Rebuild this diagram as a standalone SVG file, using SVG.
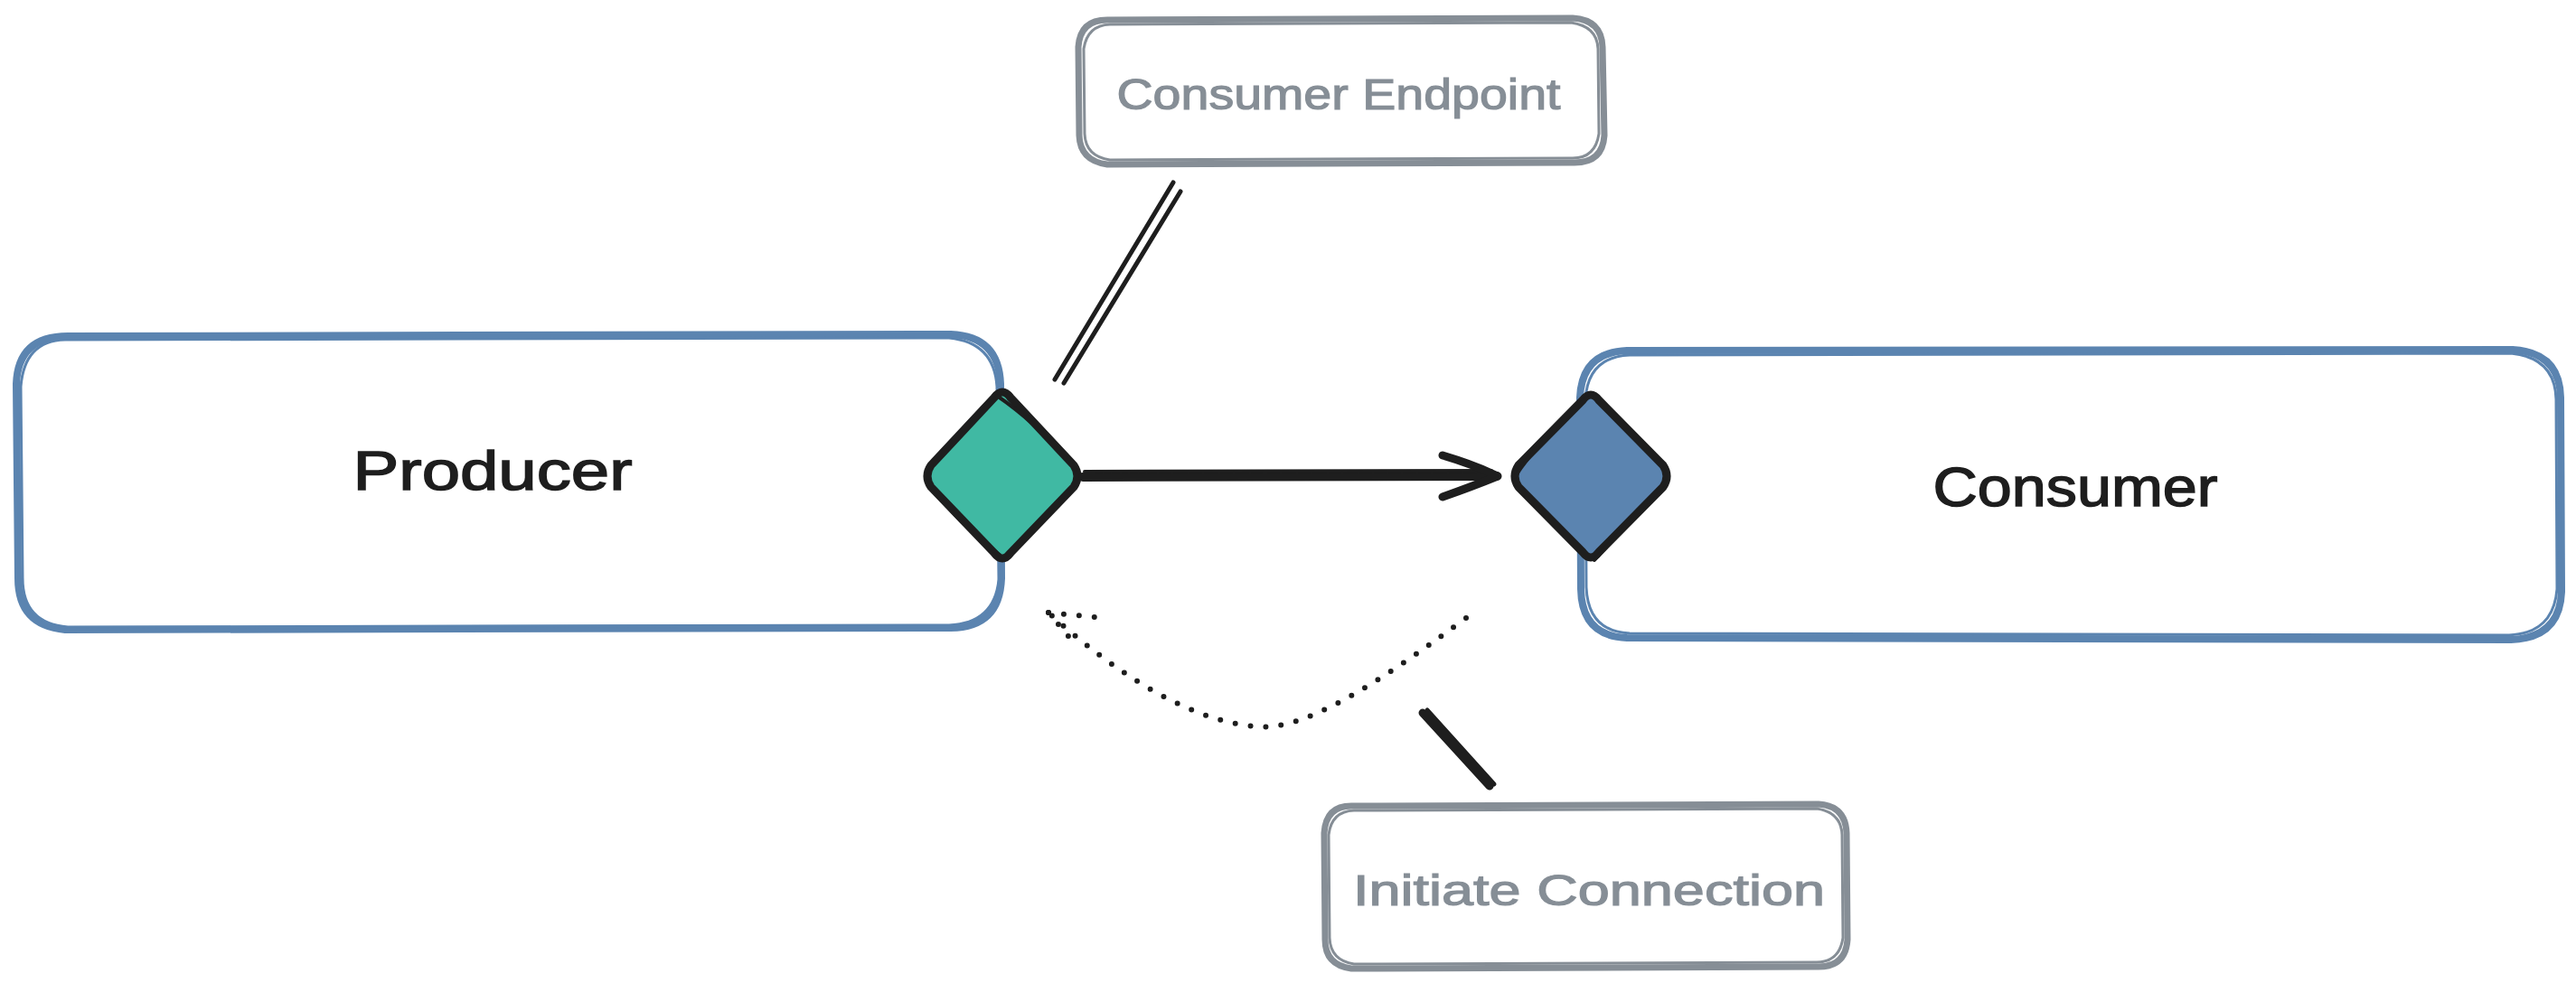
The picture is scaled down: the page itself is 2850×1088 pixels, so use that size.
<svg xmlns="http://www.w3.org/2000/svg" width="2850" height="1088" viewBox="0 0 2850 1088">
<style>
.blue{stroke:#5b84b0;stroke-linecap:round;stroke-linejoin:round}
.gray{stroke:#868e96;stroke-linecap:round;stroke-linejoin:round}
.ink{stroke:#1e1e1e;stroke-linecap:round;stroke-linejoin:round}
.nf{fill:none}
.wf{fill:#ffffff}
.dot{fill:none;stroke:#1e1e1e;stroke-width:6;stroke-linecap:round;stroke-dasharray:0 17}
.lbl{font-family:"Liberation Sans","DejaVu Sans",sans-serif;text-anchor:middle}
.big{font-size:62px;fill:#1e1e1e;stroke:#1e1e1e;stroke-width:1.5}
.small{font-size:48px;fill:#868e96;stroke:#868e96;stroke-width:1.2}
</style>
<rect x="0" y="0" width="2850" height="1088" fill="#ffffff"/>
<g id="producer">
<path class="blue wf" stroke-width="8" d="M 75 372 L 1052 370 Q 1105 372 1107 425 L 1108 640 Q 1106 694 1052 695 L 72 697 Q 20 692 20 640 L 18 425 Q 20 372 75 372 Z"/>
<path class="blue nf" stroke-width="3" d="M 72 376 L 1050 374 Q 1100 379 1103 428 L 1105 642 Q 1100 690 1050 692 L 75 694 Q 25 690 25 640 L 23 428 Q 27 377 72 376"/>
<text class="lbl big" x="545" y="542" textLength="309" lengthAdjust="spacingAndGlyphs">Producer</text>
</g>
<g id="consumer">
<path class="blue wf" stroke-width="8" d="M 1800 388 L 2780 387 Q 2832 390 2833 440 L 2834 655 Q 2832 706 2778 708 L 1800 706 Q 1750 704 1749 652 L 1748 440 Q 1750 390 1800 388 Z"/>
<path class="blue nf" stroke-width="3" d="M 1803 393 L 2778 391 Q 2827 396 2828 442 L 2829 652 Q 2825 701 2776 703 L 1803 701 Q 1757 699 1755 650 L 1754 442 Q 1757 395 1803 393"/>
<text class="lbl big" x="2296" y="560" textLength="315" lengthAdjust="spacingAndGlyphs">Consumer</text>
</g>
<g id="consumer-endpoint">
<path class="gray wf" stroke-width="7" d="M 1225 22 L 1740 20 Q 1772 22 1773 52 L 1775 150 Q 1773 180 1742 180 L 1225 182 Q 1195 178 1194 150 L 1193 52 Q 1195 22 1225 22 Z"/>
<path class="gray nf" stroke-width="3" d="M 1228 27 L 1738 25 Q 1767 29 1768 54 L 1769 148 Q 1765 175 1740 175 L 1228 177 Q 1201 173 1200 148 L 1199 54 Q 1203 28 1228 27"/>
<text class="lbl small" x="1481" y="121" textLength="491" lengthAdjust="spacingAndGlyphs">Consumer Endpoint</text>
</g>
<g id="initiate-connection">
<path class="gray wf" stroke-width="7" d="M 1495 892 L 2012 890 Q 2042 892 2043 922 L 2044 1040 Q 2042 1070 2012 1070 L 1495 1072 Q 1466 1068 1466 1040 L 1465 922 Q 1467 892 1495 892 Z"/>
<path class="gray nf" stroke-width="3" d="M 1498 897 L 2010 895 Q 2037 899 2038 924 L 2039 1038 Q 2035 1065 2010 1065 L 1498 1067 Q 1472 1063 1471 1038 L 1470 924 Q 1473 898 1498 897"/>
<text class="lbl small" x="1758" y="1002" textLength="522" lengthAdjust="spacingAndGlyphs">Initiate Connection</text>
</g>
<g id="producer-port">
<path class="ink" stroke-width="9" style="fill:#40b9a3" d="M 1100 440 Q 1109 428 1118 440 L 1188 515 Q 1196 527 1188 539 L 1118 612 Q 1109 624 1100 612 L 1030 539 Q 1022 527 1030 515 Z"/>
<path class="ink nf" stroke-width="4" d="M 1103 438 Q 1150 470 1190 520 M 1106 614 Q 1060 580 1026 532"/>
</g>
<g id="consumer-port">
<path class="ink" stroke-width="9" style="fill:#5b84b0" d="M 1751 443 Q 1760 431 1769 443 L 1840 515 Q 1848 527 1840 539 L 1769 611 Q 1760 623 1751 611 L 1680 539 Q 1672 527 1680 515 Z"/>
<path class="ink nf" stroke-width="4" d="M 1756 440 Q 1700 490 1676 528 M 1844 532 Q 1800 580 1764 620"/>
</g>
<g id="connectors">
<path class="ink nf" stroke-width="10" d="M 1198 528 L 1656 527"/>
<path class="ink nf" stroke-width="4" d="M 1200 522 L 1650 521"/>
<path class="ink nf" stroke-width="9" d="M 1596 504 Q 1630 514 1657 527 Q 1630 538 1596 550"/>
<path class="ink nf" stroke-width="5" d="M 1167 420 L 1298 202"/>
<path class="ink nf" stroke-width="5" d="M 1177 424 L 1306 212"/>
<path class="ink nf" stroke-width="9" d="M 1574 789 L 1648 870"/>
<path class="ink nf" stroke-width="5" d="M 1579 786 L 1653 868"/>
<path class="dot" d="M 1622 684 C 1520 760 1440 810 1390 804 C 1330 800 1250 760 1160 678"/>
<path class="dot" d="M 1160 678 L 1222 684"/>
<path class="dot" d="M 1160 678 L 1192 716"/>
</g>
</svg>
